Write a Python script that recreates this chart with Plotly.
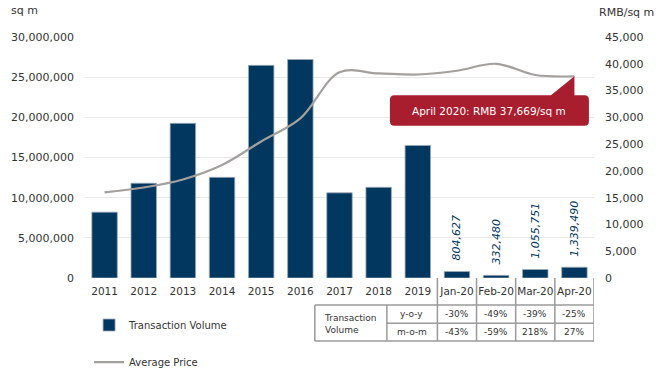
import plotly.graph_objects as go

categories = ["2011", "2012", "2013", "2014", "2015", "2016", "2017", "2018", "2019",
              "Jan-20", "Feb-20", "Mar-20", "Apr-20"]
volume = [8200000, 11800000, 19250000, 12530000, 26470000, 27200000, 10600000,
          11290000, 16500000, 804627, 332480, 1055751, 1339490]
avg_price = [16000, 16900, 18400, 21100, 25500, 29800, 38400, 38200, 38000,
             38700, 40000, 37900, 37669]
monthly_cats = ["Jan-20", "Feb-20", "Mar-20", "Apr-20"]
yoy = ["-30%", "-49%", "-39%", "-25%"]
mom = ["-43%", "-59%", "218%", "27%"]
left_ticks = [0, 5000000, 10000000, 15000000, 20000000, 25000000, 30000000]
right_ticks = [0, 5000, 10000, 15000, 20000, 25000, 30000, 35000, 40000, 45000]

NAVY = "#02375F"
GREY_LINE = "#A3A09D"
RED = "#A91E2E"
TXT = "#333333"
FONT = "DejaVu Sans"

fig = go.Figure()
fig.add_trace(go.Bar(
    x=categories, y=volume, name="Transaction Volume", legendgroup="a",
    marker=dict(color=NAVY, line=dict(color="#9DAAB8", width=0.8)),
    width=0.65, hoverinfo="skip",
))
fig.add_trace(go.Scatter(
    x=categories, y=avg_price, name="Average Price", yaxis="y2", legendgroup="b",
    mode="lines", line=dict(color=GREY_LINE, width=2.2, shape="spline", smoothing=1.0),
    hoverinfo="skip",
))

shapes = []
line_style = dict(color="#9A9A9A", width=1.5)
y_top, y_mid, y_bot = -0.112, -0.188, -0.2614
x_left, x_lab = 5.37, 7.21
for xb in [8.5, 9.5, 10.5, 11.5, 12.5]:
    shapes.append(dict(type="line", xref="x", yref="paper", x0=xb, x1=xb, y0=0, y1=y_bot, line=line_style))
for xb in [x_left, x_lab]:
    shapes.append(dict(type="line", xref="x", yref="paper", x0=xb, x1=xb, y0=y_top, y1=y_bot, line=line_style))
shapes.append(dict(type="line", xref="x", yref="paper", x0=x_left, x1=12.5, y0=y_top, y1=y_top, line=line_style))
shapes.append(dict(type="line", xref="x", yref="paper", x0=x_lab, x1=12.5, y0=y_mid, y1=y_mid, line=line_style))
shapes.append(dict(type="line", xref="x", yref="paper", x0=x_left, x1=12.5, y0=y_bot, y1=y_bot, line=line_style))

callout = ("M0,0 L0,-19 L10,-19 Q14.5,-19 14.5,-23.5 L14.5,-45 Q14.5,-49.5 10,-49.5 "
           "L-180,-49.5 Q-184.5,-49.5 -184.5,-45 L-184.5,-23.5 Q-184.5,-19 -180,-19 L-23.5,-19 Z")
shapes.append(dict(type="path", xref="x", yref="y2", xsizemode="pixel", ysizemode="pixel",
                   xanchor=categories[-1], yanchor=avg_price[-1], path=callout,
                   fillcolor=RED, line=dict(width=0), layer="above"))


def note(text, x, y, xref="paper", yref="paper", size=9, **kw):
    d = dict(text=text, x=x, y=y, xref=xref, yref=yref, showarrow=False,
             xanchor="center", yanchor="middle",
             font=dict(family=FONT, size=size, color=TXT))
    d.update(kw)
    return d


annotations = [
    note("sq m", -0.118, 1.112, size=11),
    note("RMB/sq m", 1.063, 1.0996, size=11),
    dict(text=f"April 2020: RMB {avg_price[-1]:,}/sq m", x=categories[-1], y=avg_price[-1],
         xref="x", yref="y2", showarrow=False, xanchor="center", yanchor="middle",
         xshift=-85, yshift=-34.5, font=dict(family=FONT, size=10.5, color="white")),
    note("Transaction<br>Volume", 6.29, -0.19, xref="x", align="left"),
    note("y-o-y", 7.85, -0.149, xref="x"),
    note("m-o-m", 7.85, -0.224, xref="x"),
]
for c, a, b in zip(monthly_cats, yoy, mom):
    annotations.append(note(a, c, -0.149, xref="x"))
    annotations.append(note(b, c, -0.224, xref="x"))
for c, v in zip(categories, volume):
    if c in monthly_cats:
        annotations.append(dict(text=f"{v:,}", x=c, y=v, xref="x", yref="y", showarrow=False,
                                textangle=-90, xanchor="center", yanchor="bottom", yshift=9,
                                font=dict(family=FONT, size=11, color=NAVY, style="italic")))

fig.update_layout(
    width=661, height=369,
    margin=dict(l=85, r=67, t=37, b=91, autoexpand=False),
    paper_bgcolor="white", plot_bgcolor="white",
    font=dict(family=FONT, size=11, color=TXT),
    xaxis=dict(type="category", range=[-0.5, 12.5], showgrid=False, zeroline=False,
               showline=False, ticks="", ticklabelstandoff=5,
               tickfont=dict(size=10.5, color=TXT)),
    yaxis=dict(range=[0, 30000000], tickvals=left_ticks, tickformat=",d",
               showgrid=True, gridcolor="#E8E8E8", gridwidth=1, zeroline=False,
               ticklabelstandoff=10, tickfont=dict(size=11, color=TXT)),
    yaxis2=dict(range=[0, 45000], tickvals=right_ticks, tickformat=",d", overlaying="y",
                side="right", showgrid=False, zeroline=False, ticklabelstandoff=10,
                tickfont=dict(size=11, color=TXT)),
    legend=dict(orientation="v", x=0.008, y=-0.135, xanchor="left", yanchor="top",
                tracegroupgap=18, font=dict(family=FONT, size=10, color=TXT),
                bgcolor="rgba(0,0,0,0)"),
    shapes=shapes, annotations=annotations,
)

fig.write_html("out.html", config={"displayModeBar": False},
               post_script="document.body.style.margin='0px';")
